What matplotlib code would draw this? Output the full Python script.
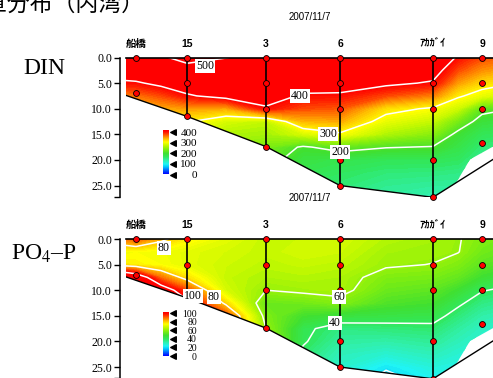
import numpy as np
import matplotlib
matplotlib.use('Agg')
import matplotlib.pyplot as plt
from matplotlib.colors import LinearSegmentedColormap, Normalize
from matplotlib.patches import Polygon

plt.rcParams['font.family'] = ['Liberation Serif', 'DejaVu Serif']
plt.rcParams['mathtext.fontset'] = 'stix'
JP = ['Noto Sans CJK JP', 'DejaVu Sans']
SANS = ['Liberation Sans', 'Noto Sans CJK JP']

# stations along the section (distance in km from the left end)
stations = ['船橋', '15', '3', '6', 'ｱｶｶﾞｲ', '9']
station_km = [1.0, 6.1, 14.0, 21.4, 30.7, 35.6]
station_line = [False, True, True, True, True, False]
sample_m = [[0, 7.0], [0, 5, 11.5], [0, 5, 10, 17.4], [0, 5, 10, 20, 25],
            [0, 5, 10, 20, 27.3], [0, 5, 10, 16.6]]

# sea bottom and the gridded area
bottom_km = [0, 6.1, 14.0, 21.4, 30.7, 38.0]
bottom_m = [7.4, 11.5, 17.4, 25.0, 27.3, 18.3]
area_km = [0, 38, 38, 36.7, 34.4, 33.0, 30.7, 21.4, 14.0, 6.1, 0]
area_m = [0, 0, 16.2, 17.4, 19.9, 24.5, 27.3, 25.0, 17.4, 11.5, 7.4]

# gridded values (one list per column, depth 0..27.5 m step 2.5)
grid_km = [0, 1.0, 3.5, 6.1, 10.0, 14.0, 17.7, 21.4, 26.0, 30.7, 33.2, 35.6, 38.0]
grid_m = [0, 2.5, 5, 7.5, 10, 12.5, 15, 17.5, 20, 22.5, 25, 27.5]
din = [
    [450, 420, 395, 350, 320, 300, 280, 260, 240, 220, 200, 190],
    [460, 430, 395, 355, 325, 300, 280, 260, 240, 220, 200, 190],
    [490, 450, 410, 370, 335, 305, 285, 265, 245, 225, 205, 190],
    [525, 470, 425, 395, 340, 303, 285, 265, 245, 225, 205, 190],
    [502, 455, 430, 415, 335, 275, 255, 240, 225, 210, 195, 185],
    [480, 460, 440, 420, 395, 265, 250, 228, 215, 200, 190, 180],
    [470, 445, 420, 395, 370, 330, 275, 195, 180, 170, 160, 150],
    [470, 445, 418, 394, 365, 335, 295, 215, 172, 160, 152, 145],
    [460, 435, 408, 370, 312, 285, 255, 202, 165, 150, 140, 132],
    [440, 418, 396, 350, 295, 265, 235, 198, 165, 148, 135, 125],
    [395, 370, 340, 305, 270, 225, 190, 175, 160, 145, 135, 125],
    [370, 345, 315, 285, 212, 185, 165, 150, 140, 130, 125, 120],
    [360, 335, 305, 270, 202, 180, 160, 148, 138, 130, 125, 120],
]
po4 = [
    [88, 72, 76, 115, 118, 118, 115, 110, 105, 100, 95, 90],
    [90, 73, 75, 110, 115, 115, 112, 108, 104, 100, 95, 90],
    [82, 72, 73, 88, 108, 112, 110, 106, 102, 98, 94, 90],
    [75, 70, 70, 77, 92, 103, 108, 105, 100, 96, 92, 88],
    [70, 68, 67, 66, 68, 78, 92, 95, 92, 88, 84, 80],
    [66, 66, 65, 63, 60, 54, 57, 60, 63, 62, 60, 58],
    [67, 68, 66, 64, 61.5, 55, 48, 42, 41, 38, 36, 34],
    [68, 67, 65, 63, 62.5, 57.5, 45, 36, 33, 30, 28, 26],
    [64, 62, 61, 57, 54, 50, 44, 37, 32, 27, 21, 17],
    [62, 61.5, 59.8, 56, 52, 48, 43, 38, 34, 30, 26, 23],
    [60.5, 60.3, 57, 53, 47, 41.5, 37, 33, 30, 27, 25, 23],
    [57, 55, 52, 47, 40.5, 36, 32, 29, 27, 25, 24, 23],
    [55, 53, 50, 44, 38.5, 34, 30, 27, 25, 24, 23, 22],
]
din_levels = [200, 300, 400, 500]
po4_levels = [20, 40, 60, 80, 100]
din_ticks = [0, 100, 200, 300, 400]
po4_ticks = [0, 20, 40, 60, 80, 100]
din_labels_at = [(7.9, 1.7), (17.4, 7.6), (20.2, 15.0), (21.4, 18.4)]
po4_labels_at = [(3.8, 1.7), (6.7, 11.1), (8.8, 11.3), (21.3, 11.3), (20.9, 16.4)]

odv = LinearSegmentedColormap.from_list('odv', [
    (0.00, '#0000ff'), (0.08, '#0060ff'), (0.16, '#00c8ff'), (0.22, '#20f4f4'),
    (0.30, '#30f0b0'), (0.38, '#30e860'), (0.46, '#40e030'), (0.55, '#80ee10'),
    (0.63, '#c0f800'), (0.71, '#ffff00'), (0.78, '#ffc000'), (0.85, '#ff7000'),
    (0.92, '#ff2000'), (0.96, '#ff0000'), (1.00, '#ff0000')])
odv.set_over('#ff0000')
odv.set_under('#0000ff')

W, H = 493, 378
fig = plt.figure(figsize=(W / 100, H / 100), dpi=100)


def px_axes(x0, y0, w, h):
    return fig.add_axes([x0 / W, 1 - (y0 + h) / H, w / W, h / H])


def section(top, values, vmax, levels, label_at, ticks, name, name_y):
    ax = px_axes(126, top, 380, 139.3)
    X, Y = np.meshgrid(grid_km, grid_m)
    Z = np.array(values, dtype=float).T
    area = Polygon(np.column_stack([area_km, area_m]), closed=True,
                   transform=ax.transData, fc='none', ec='none')
    norm = Normalize(0, vmax)
    cf = ax.contourf(X, Y, Z, levels=np.linspace(0, vmax, 85), cmap=odv,
                     norm=norm, extend='both')
    cf.set_clip_path(area)
    cs = ax.contour(X, Y, Z, levels=levels, colors='white', linewidths=1.1)
    cs.set_clip_path(area)
    lbls = ax.clabel(cs, manual=label_at, inline=False, fontsize=8.5,
                     fmt='%d', colors='black')
    for t, xy in zip(lbls, label_at):
        t.set_rotation(0)
        t.set_position(xy)
        t.set_bbox(dict(boxstyle='square,pad=0.08', fc='white', ec='none'))
        t.set_zorder(6)

    ax.plot([0, 38], [0, 0], color='black', lw=1.2, clip_on=False, zorder=4)
    ax.plot(bottom_km, bottom_m, color='black', lw=1.0, zorder=4)
    for name_s, x, deps, line in zip(stations, station_km, sample_m, station_line):
        if line:
            ax.plot([x, x], [0, deps[-1]], color='black', lw=1.2, zorder=4)
        ax.scatter([x] * len(deps), deps, s=18, c='red', edgecolors='black',
                   linewidths=0.6, zorder=5, clip_on=False)
        ax.text(x, -2.7, name_s, ha='center', va='center', fontsize=7.5,
                family=SANS, fontweight='bold')
    ax.text(18.4, -8.0, '2007/11/7', ha='center', va='center', fontsize=7,
            family=SANS)

    ax.set_xlim(0, 38)
    ax.set_ylim(27.2, 0)
    for s in ['top', 'right', 'bottom']:
        ax.spines[s].set_visible(False)
    ax.spines['left'].set_position(('outward', 4.3))
    ax.spines['left'].set_linewidth(1.1)
    ax.xaxis.set_visible(False)
    ax.set_yticks([0, 5, 10, 15, 20, 25, 27.2])
    ax.set_yticklabels(['0.0', '5.0', '10.0', '15.0', '20.0', '25.0', ''])
    ax.tick_params(axis='y', direction='out', length=4.3, width=1.0,
                   labelsize=8.5, pad=1.5)
    ax.patch.set_alpha(0)

    # colour bar
    cax = px_axes(163, top + 72.5, 5.5, 44.5)
    cax.imshow(np.linspace(0, vmax, 256)[:, None], aspect='auto', cmap=odv,
               norm=norm, origin='lower', extent=[0, 1, 0, vmax])
    cax.set_xlim(0, 1)
    cax.set_ylim(0, vmax)
    cax.xaxis.set_visible(False)
    for s in cax.spines.values():
        s.set_visible(False)
    cax.yaxis.tick_right()
    cax.set_yticks(ticks)
    cax.set_yticklabels([str(t) for t in ticks])
    for t in cax.get_yticklabels():
        t.set_horizontalalignment('right')
    cax.tick_params(axis='y', length=0, labelsize=8 if len(ticks) < 6 else 7,
                    pad=20.5)
    cax.scatter([1.75] * len(ticks), ticks, marker='<', s=16, c='black',
                clip_on=False, zorder=5)

    fig.text(44 / W, 1 - name_y / H, name, ha='center', va='center',
             fontsize=17)


section(57.5, din, 420, din_levels, din_labels_at, din_ticks, 'DIN', 68)
section(239, po4, 104, po4_levels, po4_labels_at, po4_ticks, 'PO$_4$–P', 254)

fig.text(-39 / W, 1 - 4 / H, '鉛直分布（内湾）', ha='left', va='center',
         fontsize=16.5, family=JP)

fig.savefig('out.png', dpi=100)
